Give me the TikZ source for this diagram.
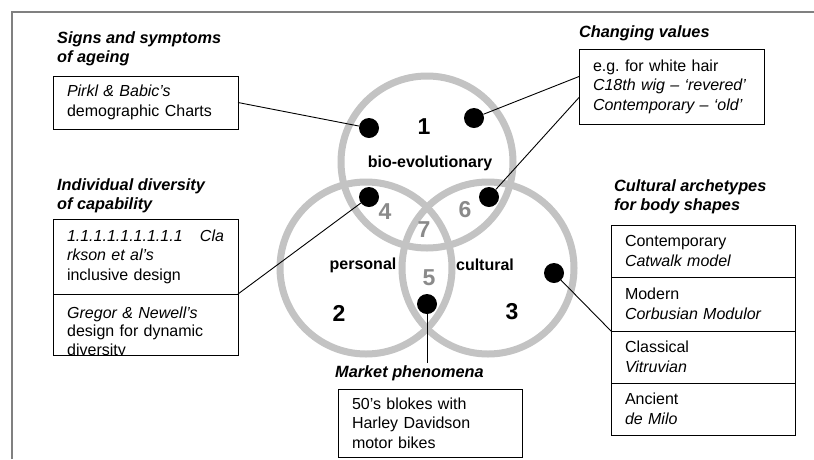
\documentclass[tikz,border=0pt]{standalone}
\usepackage{fontspec}
\setmainfont{Liberation Sans}
\usetikzlibrary{calc}
\definecolor{ringgray}{RGB}{195,195,195}
\definecolor{numgray}{RGB}{138,138,138}
\definecolor{framegray}{RGB}{128,128,128}
\newcommand\bxfont{\fontsize{16}{19.5}\selectfont}
\newcommand\hdfont{\fontsize{16.3}{19.5}\selectfont\bfseries\itshape}
\newcommand\nmfont{\fontsize{23}{26}\selectfont\bfseries}
\newcommand\lbfont{\fontsize{16}{19}\selectfont\bfseries}
\frenchspacing
\begin{document}
\begin{tikzpicture}[x=1pt,y=-1pt,
  frameline/.style={draw=framegray,line width=2pt},
  ring/.style={draw=ringgray,line width=7pt},
  dot/.style={circle,fill=black,minimum size=20pt,inner sep=0pt},
  conn/.style={draw=black,line width=0.9pt},
  box/.style={draw=black,line width=1pt,anchor=north west,outer sep=0pt,minimum width=185pt,text width=157pt,inner xsep=14pt,inner ysep=0pt,align=left,font=\bxfont},
  emptybox/.style={draw=black,line width=1pt,anchor=north west,outer sep=0pt,minimum width=185pt,inner sep=0pt},
  head/.style={anchor=west,align=left,inner sep=0pt,font=\hdfont},
  num/.style={font=\nmfont,inner sep=0pt},
  gnum/.style={num,text=numgray},
  lbl/.style={font=\lbfont,inner sep=0pt}]

\useasboundingbox (0,0) rectangle (814,459);
\fill[white] (0,0) rectangle (814,459);

% frame
\draw[frameline] (12,459) -- (12,12) -- (814,12);

% circles
\coordinate (c1) at (427,162);
\coordinate (c2) at (366,268);
\coordinate (c3) at (488,268);
\draw[ring] (c1) circle[radius=86];
\draw[ring] (c2) circle[radius=86];
\draw[ring] (c3) circle[radius=86];

% boxes
\node[box,minimum height=53pt] (pirkl) at (53,76) {\textit{Pirkl \& Babic’s}\\demographic Charts};
\node[box,minimum height=75pt] (cv) at (579,49) {e.g. for white hair\\\textit{C18th wig – ‘revered’}\\\textit{Contemporary – ‘old’}};
\node[box,minimum height=75pt] (clark) at (53,219) {\textit{1.1.1.1.1.1.1.1.1\hskip 0pt plus 1filll Cla}\\\textit{rkson et al’s}\\inclusive design};
\node[emptybox,minimum height=61pt] (gregor) at (53,294) {};
\begin{scope}
\clip (gregor.north west) rectangle (gregor.south east);
\node[anchor=north west,inner sep=0pt,text width=157pt,align=left,font=\fontsize{16}{18.5}\selectfont] (gregortext) at (67,306.5) {\textit{Gregor \& Newell’s}\\design for dynamic\\diversity};
\end{scope}
\node[box,minimum width=184pt,text width=156pt,minimum height=52pt] (contemp) at (611,225) {Contemporary\\\textit{Catwalk model}};
\node[box,minimum width=184pt,text width=156pt,minimum height=54pt] (modern) at (contemp.south west) {Modern\\\textit{Corbusian Modulor}};
\node[box,minimum width=184pt,text width=156pt,minimum height=52pt] (classical) at (modern.south west) {Classical\\\textit{Vitruvian}};
\node[box,minimum width=184pt,text width=156pt,minimum height=52pt] (ancient) at (classical.south west) {Ancient\\\textit{de Milo}};
\node[box,minimum width=184pt,text width=156pt,minimum height=68pt] (blokes) at (338,389) {50’s blokes with\\Harley Davidson\\motor bikes};

% headings
\node[head] (hsigns) at (57,49) {Signs and symptoms\\of ageing};
\node[head] (hindiv) at (57,196) {Individual diversity\\of capability};
\node[head] (hchange) at (579,33) {Changing values};
\node[head] (hcult) at (614,197) {Cultural archetypes\\for body shapes};
\node[head] (hmarket) at (335,373) {Market phenomena};

% dots
\node[dot] (dA) at (369,128) {};
\node[dot] (dB) at (474,118) {};
\node[dot] (dC) at (369,197) {};
\node[dot] (dD) at (489,197) {};
\node[dot] (dE) at (427,304) {};
\node[dot] (dF) at (554,273) {};

% connectors
\draw[conn] (dA) -- (pirkl.east);
\draw[conn] (dB) -- ([yshift=10pt]cv.west);
\draw[conn] (dD) -- ([yshift=-11pt]cv.west);
\draw[conn] (dC) -- (clark.south east);
\draw[conn] (dF) -- (modern.south west);
\draw[conn] (dE) -- ([yshift=2pt]dE |- hmarket.north);

% labels
\node[num] (n1) at (424,127) {1};
\node[lbl] (bio) at (430,163) {bio-evolutionary};
\node[gnum] (n4) at (385,212) {4};
\node[gnum] (n6) at (465,210) {6};
\node[gnum] (n7) at (424,230) {7};
\node[gnum] (n5) at (429,278) {5};
\node[lbl] (personal) at (363,265) {personal};
\node[lbl] (cultural) at (485,265) {cultural};
\node[num] (n2) at (339,313) {2};
\node[num] (n3) at (512,312) {3};
\end{tikzpicture}
\end{document}
